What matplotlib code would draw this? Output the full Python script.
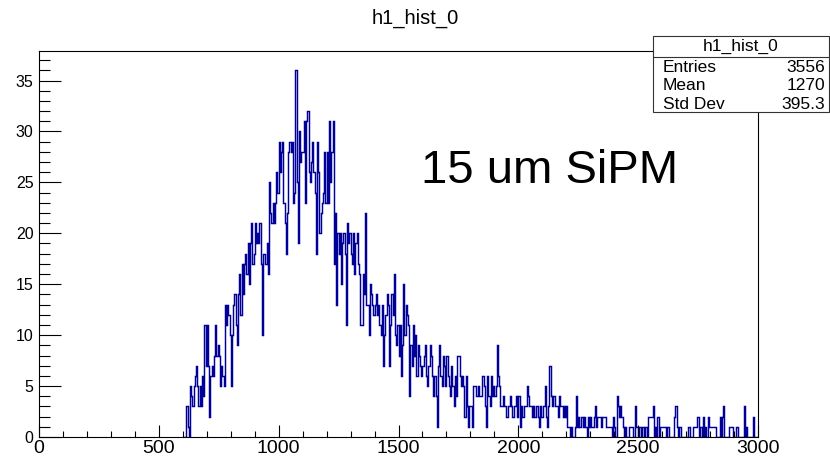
import numpy as np
import matplotlib
matplotlib.use("Agg")
import matplotlib.pyplot as plt
from matplotlib.patches import Rectangle
from matplotlib.ticker import MultipleLocator

plt.rcParams['font.family'] = ['Liberation Sans', 'DejaVu Sans']

# h1_hist_0 : 5-unit bins, first row starts at x = 600, last bin ends at 3000
x_start = 600
bin_width = 5
counts = [
    0, 0, 0, 3, 1, 0, 5, 4, 3, 5,            # 600
    6, 7, 5, 3, 5, 3, 6, 4, 11, 7,           # 650
    11, 7, 2, 6, 7, 6, 8, 11, 8, 9,          # 700
    8, 5, 7, 6, 5, 13, 11, 13, 12, 10,       # 750
    5, 10, 13, 14, 11, 9, 14, 16, 12, 17,    # 800
    14, 17, 18, 16, 19, 15, 19, 21, 17, 18,  # 850
    21, 19, 20, 19, 21, 17, 10, 18, 18, 17,  # 900
    19, 16, 25, 22, 21, 23, 21, 23, 26, 24,  # 950
    29, 26, 28, 29, 23, 21, 18, 22, 28, 29,  # 1000
    28, 29, 23, 24, 36, 25, 19, 30, 27, 28,  # 1050
    28, 31, 23, 31, 32, 26, 25, 27, 29, 26,  # 1100
    24, 18, 29, 26, 20, 22, 23, 24, 28, 23,  # 1150
    28, 23, 31, 25, 28, 31, 17, 22, 13, 20,  # 1200
    18, 20, 15, 19, 20, 18, 11, 21, 19, 20,  # 1250
    18, 17, 20, 16, 19, 20, 17, 16, 11, 11,  # 1300
    16, 14, 22, 13, 13, 10, 15, 14, 13, 12,  # 1350
    13, 14, 12, 13, 11, 10, 13, 7, 10, 12,   # 1400
    14, 13, 7, 11, 14, 12, 16, 10, 9, 11,    # 1450
    8, 11, 6, 9, 15, 10, 13, 12, 11, 4,      # 1500
    9, 7, 11, 8, 10, 6, 9, 8, 7, 6,          # 1550
    7, 8, 9, 6, 5, 7, 9, 8, 6, 4,            # 1600
    6, 4, 1, 7, 9, 6, 5, 8, 7, 5,            # 1650
    8, 6, 5, 4, 7, 5, 3, 6, 4, 8,            # 1700
    8, 6, 5, 6, 5, 2, 6, 3, 1, 3,            # 1750
    3, 1, 5, 5, 5, 4, 5, 4, 4, 4,            # 1800
    6, 5, 3, 1, 6, 4, 3, 6, 4, 5,            # 1850
    4, 5, 9, 6, 5, 3, 3, 4, 3, 3,            # 1900
    2, 3, 3, 4, 3, 2, 3, 3, 4, 2,            # 1950
    4, 1, 3, 2, 2, 3, 3, 5, 4, 3,            # 2000
    3, 2, 3, 2, 2, 3, 2, 1, 3, 2,            # 2050
    2, 3, 5, 2, 1, 3, 7, 4, 3, 4,            # 2100
    4, 3, 3, 2, 4, 3, 3, 2, 3, 2,            # 2150
    3, 1, 1, 0, 1, 0, 0, 1, 4, 1,            # 2200
    2, 1, 2, 2, 1, 2, 1, 0, 2, 1,            # 2250
    2, 1, 1, 2, 3, 1, 2, 2, 2, 1,            # 2300
    2, 2, 2, 1, 1, 1, 1, 1, 0, 2,            # 2350
    1, 0, 4, 3, 2, 3, 2, 1, 0, 1,            # 2400
    0, 0, 1, 1, 1, 1, 0, 3, 1, 1,            # 2450
    0, 1, 0, 1, 1, 0, 1, 0, 2, 2,            # 2500
    2, 2, 3, 0, 1, 0, 2, 0, 1, 1,            # 2550
    1, 1, 1, 0, 1, 1, 0, 0, 0, 0,            # 2600
    2, 3, 1, 0, 1, 1, 0, 0, 0, 0,            # 2650
    0, 0, 1, 0, 0, 0, 1, 1, 1, 2,            # 2700
    2, 0, 1, 0, 2, 0, 1, 0, 2, 1,            # 2750
    1, 1, 1, 1, 1, 0, 0, 0, 2, 0,            # 2800
    2, 3, 0, 0, 0, 0, 1, 1, 1, 0,            # 2850
    0, 0, 1, 0, 0, 0, 0, 0, 3, 0,            # 2900
    1, 0, 0, 0, 0, 0, 2, 0, 0, 0,            # 2950
]

hist_name = "h1_hist_0"
stats_labels = ["Entries", "Mean", "Std Dev"]
stats_values = ["3556", "1270", "395.3"]
note = "15 um SiPM"

W, H = 830, 457
fig = plt.figure(figsize=(W / 100, H / 100), dpi=100)

def fx(px):
    return px / W

def fy(py):
    return 1 - py / H

# frame: x 39..758, y 51..437 (pixels)
ax = fig.add_axes([fx(39), fy(437), fx(758) - fx(39), fy(51) - fy(437)])

edges = x_start + bin_width * np.arange(len(counts) + 1)
ax.stairs(counts, edges, color='#000099', lw=1.05)

ax.set_xlim(0, 3000)
ax.set_ylim(0, 37.9)

ax.xaxis.set_major_locator(MultipleLocator(500))
ax.xaxis.set_minor_locator(MultipleLocator(100))
ax.yaxis.set_major_locator(MultipleLocator(5))
ax.yaxis.set_minor_locator(MultipleLocator(1))

ax.tick_params(axis='x', which='major', direction='in', length=8.5, width=0.8, labelsize=14, pad=2)
ax.tick_params(axis='x', which='minor', direction='in', length=4.3, width=0.8)
ax.tick_params(axis='y', which='major', direction='in', length=16, width=0.8, labelsize=11.5, pad=4)
ax.tick_params(axis='y', which='minor', direction='in', length=8, width=0.8)
for s in ax.spines.values():
    s.set_linewidth(0.8)

fig.text(fx(415), fy(18), hist_name, ha='center', va='center', fontsize=14.5)

# stats box
box_l, box_r, box_t, box_b, box_sep = 653, 829, 36, 112, 57
fig.add_artist(Rectangle((fx(box_l), fy(box_b)), fx(box_r) - fx(box_l), fy(box_t) - fy(box_b),
                         transform=fig.transFigure, facecolor='white', edgecolor='#333333', lw=0.8))
fig.add_artist(plt.Line2D([fx(box_l), fx(box_r)], [fy(box_sep), fy(box_sep)],
                          transform=fig.transFigure, color='#333333', lw=0.8))
fig.text(fx((box_l + box_r) / 2), fy(46.5), hist_name, ha='center', va='center', fontsize=12.5)
for i, (lab, val) in enumerate(zip(stats_labels, stats_values)):
    yy = fy(67.5 + 18.5 * i)
    fig.text(fx(663), yy, lab, ha='left', va='center', fontsize=12.5)
    fig.text(fx(825), yy, val, ha='right', va='center', fontsize=12.5)

fig.text(fx(421), fy(183), note, ha='left', va='baseline', fontsize=34)

fig.savefig("out.png", dpi=100)
